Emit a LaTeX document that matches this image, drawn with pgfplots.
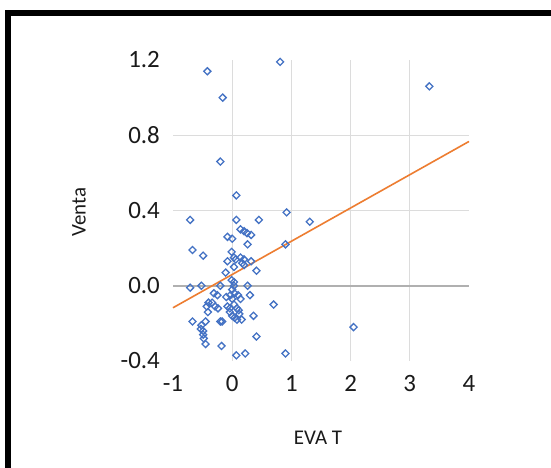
\documentclass[border=0pt]{standalone}
\usepackage{pgfplots}
\pgfplotsset{compat=1.18}
\usepackage{fontspec}
\setmainfont{Carlito}
\definecolor{mblue}{HTML}{4472C4}
\definecolor{torange}{HTML}{ED7D31}
\definecolor{gridc}{HTML}{DCDCDC}
\definecolor{axc}{HTML}{B0B0B0}
\definecolor{txt}{HTML}{1A1A1A}
\begin{document}
\begin{tikzpicture}
\path[use as bounding box] (0,0) rectangle (551bp,468bp);
\fill[white] (0,0) rectangle (551bp,468bp);
\draw[black, line width=6bp] (8bp,0) -- (8bp,455bp) -- (551bp,455bp);
\begin{axis}[
  at={(173bp,107bp)}, anchor=south west,
  scale only axis, width=296bp, height=301bp,
  xmin=-1, xmax=4, ymin=-0.4, ymax=1.2,
  axis line style={draw=none},
  major tick length=0pt,
  xtick={-1,0,1,2,3,4},
  ytick={-0.4,0,0.4,0.8,1.2},
  extra x ticks={0,1,2,3}, extra x tick labels={},
  extra y ticks={0.4,0.8}, extra y tick labels={},
  extra tick style={grid=major, major tick length=0pt},
  grid style={gridc, line width=1.4bp},
  /pgf/number format/assume math mode=true,
  yticklabel style={/pgf/number format/fixed, /pgf/number format/fixed zerofill, /pgf/number format/precision=1, font=\fontsize{25}{28}\selectfont, text=txt, anchor=east, inner sep=0pt, xshift=-13bp},
  xticklabel style={font=\fontsize{25}{28}\selectfont, text=txt, anchor=north, inner sep=0pt, yshift=-14bp},
  xlabel={EVA T}, ylabel={Venta},
  xlabel style={font=\fontsize{21}{24}\selectfont, text=txt, at={(axis description cs:0.49,-0.256)}, anchor=center},
  ylabel style={font=\fontsize{21}{24}\selectfont, text=txt, at={(axis description cs:-0.318,0.495)}, anchor=center},
  clip=false,
]
\draw[axc, line width=1.6bp] (axis cs:-1,0) -- (axis cs:4,0);
\addplot[only marks, mark=square, mark size=2.5bp, mark options={draw=mblue, fill=white, line width=1.3bp, rotate=45}] coordinates {
(-0.42,1.14) (-0.16,1.00) (0.81,1.19) (3.33,1.06) (-0.20,0.66) (0.07,0.48)
(-0.71,0.35) (0.07,0.35) (0.45,0.35) (0.92,0.39) (1.31,0.34)
(0.14,0.30) (0.20,0.29) (0.25,0.28) (0.32,0.27) (-0.08,0.26) (0.00,0.25)
(0.26,0.22) (0.90,0.22) (-0.67,0.19) (-0.49,0.16) (-0.01,0.18) (0.03,0.15)
(0.06,0.14) (0.14,0.15) (0.20,0.14) (-0.08,0.13) (0.03,0.10) (0.17,0.12)
(0.20,0.11) (0.32,0.13) (0.41,0.08) (-0.11,0.07) (-0.01,0.03) (0.03,0.02)
(-0.71,-0.01) (-0.52,0.00) (-0.20,0.00) (0.03,0.00) (0.26,0.00)
(-0.31,-0.04) (-0.25,-0.05) (0.00,-0.02) (0.04,-0.04) (-0.10,-0.06)
(-0.03,-0.05) (0.00,-0.07) (0.10,-0.05) (0.14,-0.07) (0.30,-0.05)
(-0.40,-0.09) (-0.34,-0.09) (-0.29,-0.11) (-0.24,-0.12) (-0.43,-0.11)
(-0.08,-0.11) (-0.04,-0.12) (0.03,-0.10) (0.08,-0.12) (0.11,-0.13)
(0.70,-0.10) (-0.41,-0.14) (-0.04,-0.14) (0.00,-0.16) (0.04,-0.17)
(0.08,-0.18) (0.12,-0.15) (0.16,-0.18) (0.36,-0.16) (-0.20,-0.19)
(-0.17,-0.19) (-0.67,-0.19) (-0.45,-0.19) (-0.52,-0.21) (-0.53,-0.23)
(-0.49,-0.24) (-0.49,-0.26) (-0.48,-0.28) (-0.45,-0.31) (0.41,-0.27)
(-0.18,-0.32) (0.07,-0.37) (0.22,-0.36) (0.90,-0.36) (2.05,-0.22)
};
\addplot[torange, line width=1.6bp, no marks] coordinates {(-1,-0.117) (4,0.767)};
\end{axis}
\end{tikzpicture}
\end{document}
